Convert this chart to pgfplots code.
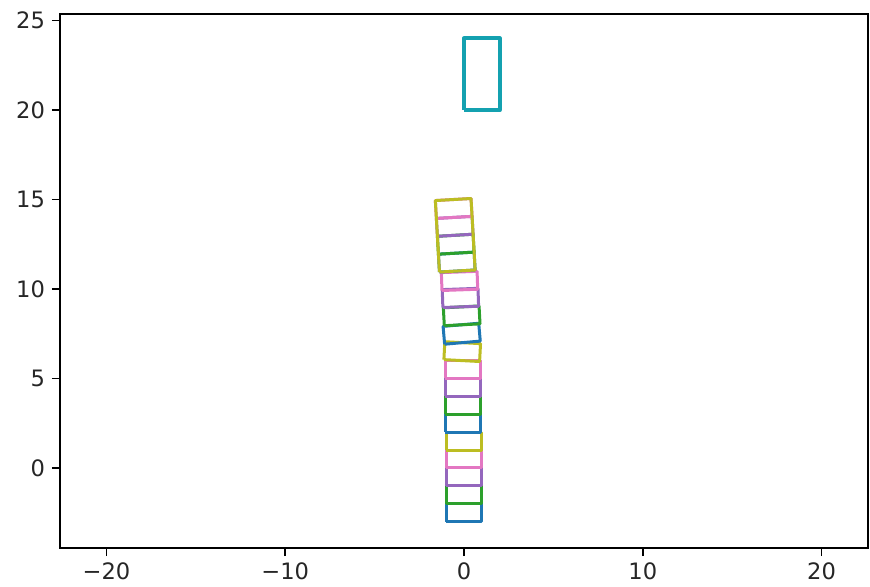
\documentclass[border=0pt]{standalone}
\usepackage{fontspec}
\setmainfont{DejaVu Sans}
\usepackage{pgfplots}
\pgfplotsset{compat=1.18}

\definecolor{tabblue}{HTML}{1F77B4}
\definecolor{tabgreen}{HTML}{2CA02C}
\definecolor{tabpurple}{HTML}{9467BD}
\definecolor{tabpink}{HTML}{E377C2}
\definecolor{tabolive}{HTML}{BCBD22}
\definecolor{tabcyan}{HTML}{17BECF}

\begin{document}
\begin{tikzpicture}
\useasboundingbox (-30pt,-19pt) rectangle (405pt,274pt);
\begin{axis}[
  at={(0,0)}, anchor=south west,
  scale only axis,
  width=404pt, height=267pt,
  xmin=-22.6, xmax=22.6,
  ymin=-4.47, ymax=25.36,
  xtick={-20,-10,0,10,20},
  xticklabels={−20,−10,0,10,20},
  ytick={0,5,10,15,20,25},
  tick align=outside,
  major tick length=4pt,
  tick style={line width=0.8pt, black},
  axis line style={line width=0.8pt},
  xtick pos=bottom, ytick pos=left,
  /pgf/number format/assume math mode=true,
  ticklabel style={font=\fontsize{11.3}{13}\selectfont, text=black!85},
  every axis plot/.append style={line width=1.5pt, line join=round, mark=none},
]
% lowest stack of five blocks
\addplot[tabblue]   coordinates {(-1,-3) (1,-3) (1,-2) (-1,-2) (-1,-3)};
\addplot[tabgreen]  coordinates {(-1,-2) (1,-2) (1,-1) (-1,-1) (-1,-2)};
\addplot[tabpurple] coordinates {(-1,-1) (1,-1) (1,0) (-1,0) (-1,-1)};
\addplot[tabpink]   coordinates {(-1,0) (1,0) (1,1) (-1,1) (-1,0)};
\addplot[tabolive]  coordinates {(-1,1) (1,1) (1,2) (-1,2) (-1,1)};
% second stack
\addplot[tabblue]   coordinates {(-1.05,2) (0.95,2) (0.95,3) (-1.05,3) (-1.05,2)};
\addplot[tabgreen]  coordinates {(-1.05,3) (0.95,3) (0.95,4) (-1.05,4) (-1.05,3)};
\addplot[tabpurple] coordinates {(-1.05,4) (0.95,4) (0.95,5) (-1.05,5) (-1.05,4)};
\addplot[tabpink]   coordinates {(-1.05,5) (0.95,5) (0.95,6) (-1.05,6) (-1.05,5)};
\addplot[tabolive]  coordinates {(-1.125,6.053) (0.872,5.948) (0.925,6.947) (-1.072,7.052) (-1.125,6.053)};
% third stack, slightly tilted
\addplot[tabblue]   coordinates {(-1.083,6.915) (0.910,7.089) (0.823,8.085) (-1.170,7.911) (-1.083,6.915)};
\addplot[tabgreen]  coordinates {(-1.102,7.948) (0.895,8.053) (0.842,9.052) (-1.155,8.947) (-1.102,7.948)};
\addplot[tabpurple] coordinates {(-1.182,8.965) (0.817,9.035) (0.782,10.035) (-1.217,9.965) (-1.182,8.965)};
\addplot[tabpink]   coordinates {(-1.232,9.915) (0.767,9.985) (0.732,10.985) (-1.267,10.915) (-1.232,9.915)};
% top stack, leaning left
\addplot[tabblue]   coordinates {(-1.373,10.946) (0.623,11.061) (0.566,12.059) (-1.431,11.944) (-1.373,10.946)};
\addplot[tabgreen]  coordinates {(-1.431,11.944) (0.566,12.059) (0.508,13.058) (-1.488,12.942) (-1.431,11.944)};
\addplot[tabpurple] coordinates {(-1.488,12.942) (0.508,13.058) (0.451,14.056) (-1.546,13.941) (-1.488,12.942)};
\addplot[tabpink]   coordinates {(-1.546,13.941) (0.451,14.056) (0.393,15.054) (-1.603,14.939) (-1.546,13.941)};
\addplot[tabolive]  coordinates {(-1.373,10.946) (0.623,11.061) (0.393,15.054) (-1.603,14.939) (-1.373,10.946)};
% falling block
\addplot[tabcyan!85!black, line width=2pt] coordinates {(0,20) (2,20) (2,24) (0,24) (0,20)};
\end{axis}
\end{tikzpicture}
\end{document}
